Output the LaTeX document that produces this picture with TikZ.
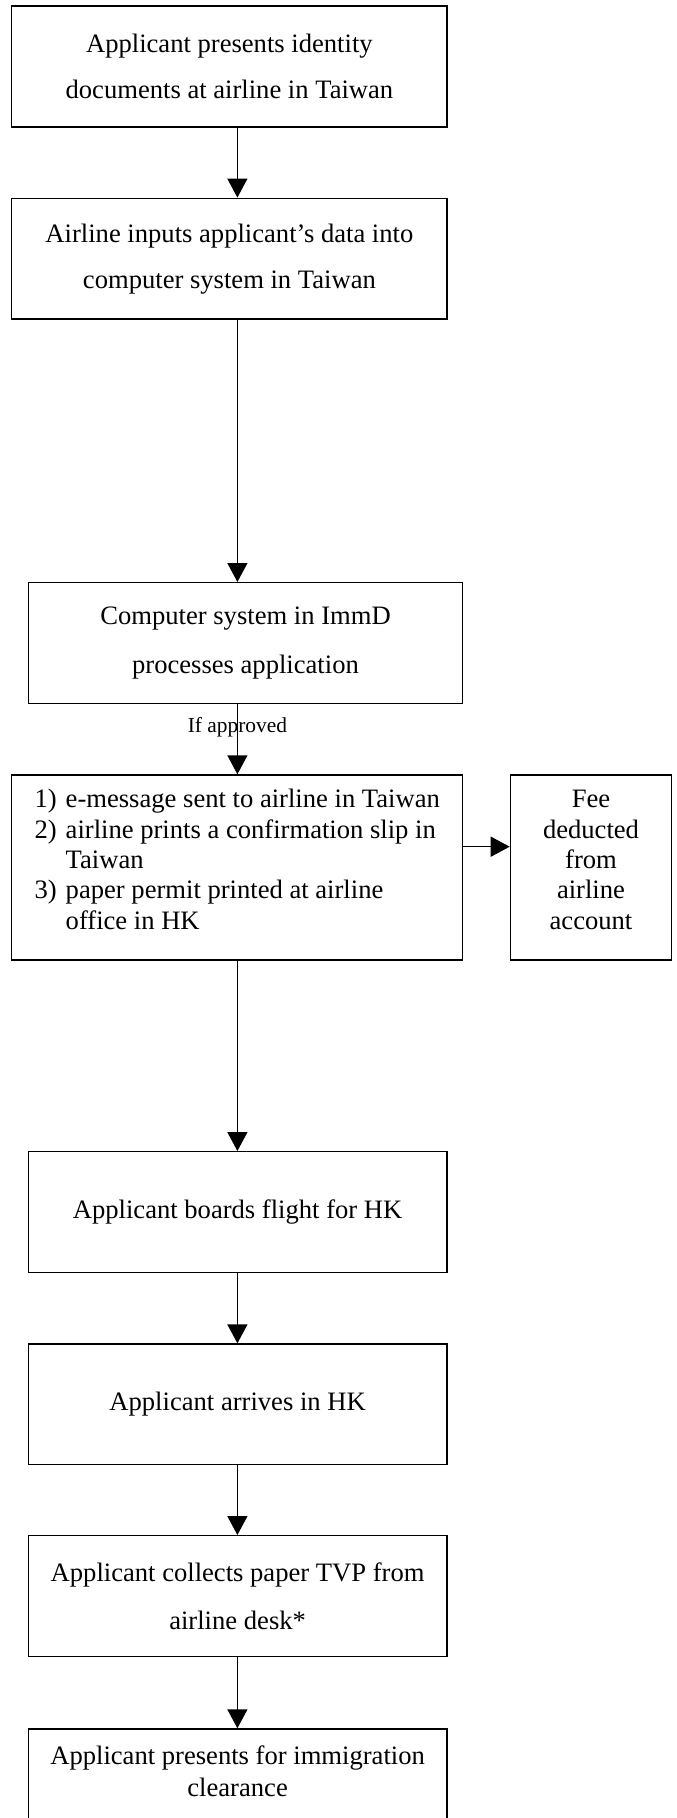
\documentclass[tikz,border=0pt]{standalone}
\usepackage{fontspec}
\setmainfont{Liberation Serif}
\usetikzlibrary{arrows.meta}
\begin{document}
\begin{tikzpicture}[x=0.5pt,y=-0.5pt,
  box/.style={draw, line width=0.7pt, inner sep=0pt, align=center, font=\fontsize{13.3}{23}\selectfont},
  txt/.style={inner sep=0pt, align=center},
  arr/.style={-{Triangle[width=10pt,length=9.5pt]}, line width=0.7pt},
  lbl/.style={inner sep=0pt, font=\fontsize{10.7}{12}\selectfont}]
\clip (0,0) rectangle (676,1818);
\fill[white] (0,0) rectangle (676,1818);
\coordinate (ax) at (237.4,0);
\coordinate (hy) at (0,846.7);
\node[box, minimum width=217.65pt, minimum height=60.5pt] (b1) at (229.4,66.5)
  {Applicant presents identity\\documents at airline in Taiwan};
\node[box, minimum width=217.65pt, minimum height=60.4pt] (b2) at (229.4,258.7)
  {Airline inputs applicant’s data into\\computer system in Taiwan};
\node[box, minimum width=217.25pt, minimum height=60.3pt, font=\fontsize{13.3}{24.2}\selectfont] (b3) at (245.5,643)
  {Computer system in ImmD\\processes application};
\node[box, minimum width=225.5pt, minimum height=92.5pt, font=\fontsize{13.3}{15.2}\selectfont] (b4) at (237.2,867.5)
  {\raisebox{2.5pt}[\height][\depth]{\begin{tabular}{@{}p{15.6pt}@{}l@{}}
  1) & e-message sent to airline in Taiwan\\
  2) & airline prints a confirmation slip in\\
     & Taiwan\\
  3) & paper permit printed at airline\\
     & office in HK
  \end{tabular}}};
\node[box, minimum width=80.6pt, minimum height=92.5pt, font=\fontsize{13.3}{15.2}\selectfont] (fee) at (591,867.5)
  {\raisebox{2.5pt}[\height][\depth]{\begin{tabular}{@{}c@{}}
  Fee\\deducted\\from\\airline\\account
  \end{tabular}}};
\node[box, minimum width=209.4pt, minimum height=60.3pt] (b5) at (237.6,1212)
  {Applicant boards flight for HK};
\node[box, minimum width=209.4pt, minimum height=60.15pt] (b6) at (237.6,1404.2)
  {Applicant arrives in HK};
\node[box, minimum width=209.4pt, minimum height=60.5pt, font=\fontsize{13.3}{24}\selectfont] (b7) at (237.6,1596.2)
  {Applicant collects paper TVP from\\airline desk*};
\node[box, anchor=north, minimum width=209.4pt, minimum height=70pt] (b8) at (237.6,1728.3) {};
\node[txt, font=\fontsize{13.3}{16}\selectfont] (b8t) at (237.6,1771)
  {Applicant presents for immigration\\clearance};
\draw[arr] (b1.south -| ax) -- (b2.north -| ax);
\draw[arr] (b2.south -| ax) -- (b3.north -| ax);
\draw[arr] (b3.south -| ax) -- node[lbl, pos=0.33] {If approved} (b4.north -| ax);
\draw[arr] (b4.east |- hy) -- (fee.west |- hy);
\draw[arr] (b4.south -| ax) -- (b5.north -| ax);
\draw[arr] (b5.south -| ax) -- (b6.north -| ax);
\draw[arr] (b6.south -| ax) -- (b7.north -| ax);
\draw[arr] (b7.south -| ax) -- (b8.north -| ax);
\end{tikzpicture}
\end{document}
